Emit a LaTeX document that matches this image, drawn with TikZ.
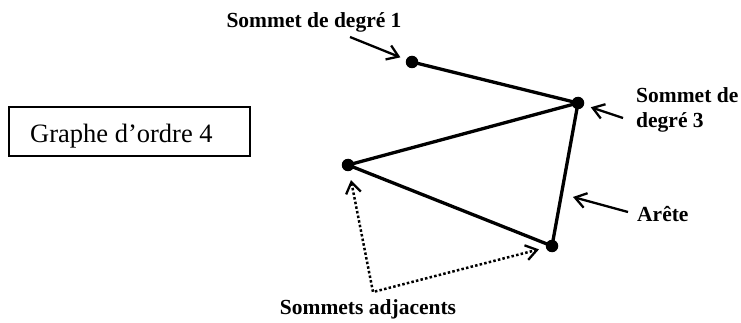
\documentclass[tikz,border=0pt]{standalone}
\usepackage{fontspec}
\setmainfont{Liberation Serif}
\usetikzlibrary{arrows.meta}
\begin{document}
\begin{tikzpicture}[x=1pt,y=-1pt,
  vertex/.style={circle,fill=black,inner sep=0pt,minimum size=12.5pt},
  edge/.style={line width=3.3pt},
  barb/.tip={Straight Barb[length=11pt,width=15pt,line width=2.3pt]},
  pointer/.style={line width=2.3pt,-barb},
  dotpointer/.style={line width=2.5pt,dash pattern=on 2.5pt off 2.2pt,barb-barb},
  lbl/.style={font=\fontsize{21.5}{25}\selectfont\bfseries,inner sep=0pt}]
\useasboundingbox (0,0) rectangle (741,323);

% title box
\node[draw,line width=2.2pt,minimum width=241pt,minimum height=49pt,inner sep=0pt]
  (box) at (129.5,131.5) {};
\node[anchor=base west,inner sep=0pt,font=\fontsize{26.5}{30}\selectfont]
  (title) at (30,143) {Graphe d’ordre 4};

% vertices
\node[vertex] (A) at (412,62) {};
\node[vertex] (B) at (578,103) {};
\node[vertex] (C) at (348,165) {};
\node[vertex] (D) at (552,246) {};

% edges
\draw[edge] (A.center) -- (B.center);
\draw[edge] (B.center) -- (C.center);
\draw[edge] (C.center) -- (D.center);
\draw[edge] (B.center) -- (D.center);

% labels
\node[lbl,anchor=base] (l1) at (314,28) {Sommet de degré 1};
\node[lbl,anchor=base west] (l3a) at (636,103) {Sommet de};
\node[lbl,anchor=base west] (l3b) at (636,128) {degré 3};
\node[lbl,anchor=base west] (lar) at (637,222) {Arête};
\node[lbl,anchor=base] (ladj) at (368,314) {Sommets adjacents};

% pointers
\coordinate (t1) at (350,37);
\coordinate (t3) at (623,118);
\coordinate (tar) at (628,212);
\coordinate (har) at (573,197);
\coordinate (corner) at (373,292);

\draw[pointer,shorten >=6pt] (t1) -- (A);
\draw[pointer,shorten >=7pt] (t3) -- (B);
\draw[pointer] (tar) -- (har);
\draw[dotpointer,shorten <=9pt,shorten >=7pt] (C) -- (corner) -- (D);
\end{tikzpicture}
\end{document}
